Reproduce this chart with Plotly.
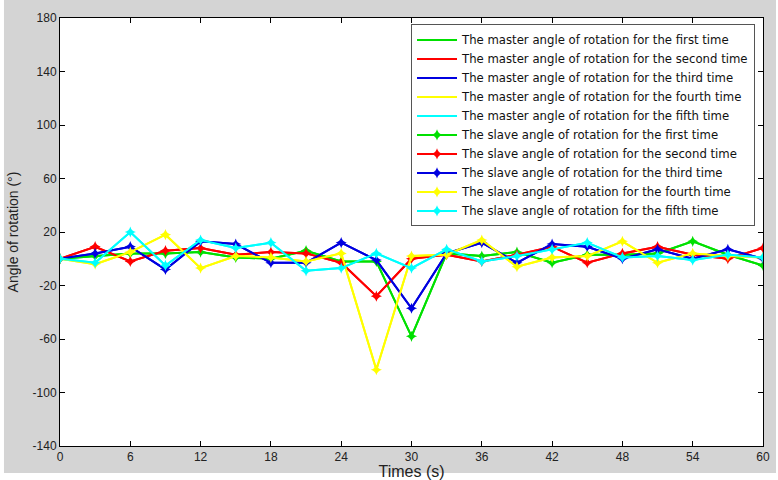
import plotly.graph_objects as go

times = [0, 3, 6, 9, 12, 15, 18, 21, 24, 27, 30, 33, 36, 39, 42, 45, 48, 51, 54, 57, 60]
x_ticks = [0, 6, 12, 18, 24, 30, 36, 42, 48, 54, 60]
y_ticks = [-140, -100, -60, -20, 20, 60, 100, 140, 180]

master_first = [0, 2, 4, 4, 5, 1, 0, 6, -2, -2, -58, 4, 2, 5, -3, 3, 3, 4, 13, 3, -5]
master_second = [0, 9, -2, 6, 8, 3, 5, 4, -3, -28, 0, 3, -2, 3, 9, -3, 4, 9, 3, 0, 8]
master_third = [0, 4, 9, -8, 13, 11, -3, -3, 12, -1, -37, 4, 12, -3, 11, 9, 0, 7, 0, 7, 0]
master_fourth = [0, -4, 5, 18, -7, 2, 1, -2, 4, -83, 2, 3, 14, -6, 1, 2, 13, -3, 4, 2, 1]
master_fifth = [0, -3, 20, -5, 14, 8, 12, -9, -7, 4, -7, 7, -2, 2, 7, 12, 1, 2, -1, 3, 1]

slave_first = [0, 2, 4, 4, 5, 1, 0, 6, -2, -2, -58, 4, 2, 5, -3, 3, 3, 4, 13, 3, -5]
slave_second = [0, 9, -2, 6, 8, 3, 5, 4, -3, -28, 0, 3, -2, 3, 9, -3, 4, 9, 3, 0, 8]
slave_third = [0, 4, 9, -8, 13, 11, -3, -3, 12, -1, -37, 4, 12, -3, 11, 9, 0, 7, 0, 7, 0]
slave_fourth = [0, -4, 5, 18, -7, 2, 1, -2, 4, -83, 2, 3, 14, -6, 1, 2, 13, -3, 4, 2, 1]
slave_fifth = [0, -3, 20, -5, 14, 8, 12, -9, -7, 4, -7, 7, -2, 2, 7, 12, 1, 2, -1, 3, 1]

ordinals = ["first", "second", "third", "fourth", "fifth"]
colors = ["#00e000", "#ff0000", "#0000e0", "#ffff00", "#00ffff"]
masters = [master_first, master_second, master_third, master_fourth, master_fifth]
slaves = [slave_first, slave_second, slave_third, slave_fourth, slave_fifth]

FONT = "Liberation Sans, Arial, sans-serif"
LEGEND_FONT = "DejaVu Sans, Verdana, sans-serif"

fig = go.Figure()
for name, col, vals in zip(ordinals, colors, masters):
    fig.add_trace(go.Scatter(
        x=times, y=vals, mode="lines",
        name=f"The master angle of rotation for the {name} time",
        line=dict(color=col, width=2),
    ))
for name, col, vals in zip(ordinals, colors, slaves):
    fig.add_trace(go.Scatter(
        x=times, y=vals, mode="lines+markers",
        name=f"The slave angle of rotation for the {name} time",
        line=dict(color=col, width=2),
        marker=dict(symbol="star-diamond", size=8, color=col),
    ))

axis_common = dict(
    showline=True, mirror="ticks", linecolor="#000000", linewidth=1,
    ticks="inside", ticklen=5, tickcolor="#000000",
    showgrid=False, zeroline=False, automargin=False,
    tickfont=dict(family=FONT, size=12, color="#222222"),
)

fig.update_layout(
    width=778, height=480,
    margin=dict(l=60, r=15, t=18, b=34),
    paper_bgcolor="#ffffff",
    plot_bgcolor="#ffffff",
    font=dict(family=FONT, size=12, color="#222222"),
    xaxis=dict(
        range=[0, 60], tickvals=x_ticks, ticktext=[str(v) for v in x_ticks],
        title=dict(text="Times (s)", standoff=0, font=dict(size=16)),
        **axis_common,
    ),
    yaxis=dict(
        range=[-140, 180], tickvals=y_ticks, ticktext=[str(v) for v in y_ticks],
        title=dict(text="Angle of rotation (°)", standoff=10, font=dict(size=14)),
        **axis_common,
    ),
    legend=dict(
        x=0.4993, y=0.985, xanchor="left", yanchor="top",
        bgcolor="#ffffff", bordercolor="#555555", borderwidth=1,
        font=dict(family=LEGEND_FONT, size=11.7, color="#111111"),
        tracegroupgap=0, itemwidth=40,
    ),
    showlegend=True,
    shapes=[
        dict(type="rect", xref="paper", yref="paper", layer="below",
             x0=-0.0797, x1=1.0185, y0=-0.0631, y1=1.042,
             fillcolor="#d4d4d4", line=dict(width=0)),
        dict(type="rect", xref="paper", yref="paper", layer="below",
             x0=0, x1=1, y0=0, y1=1,
             fillcolor="#ffffff", line=dict(width=0)),
    ],
)

fig.write_html(
    "out.html",
    config={"displayModeBar": False},
    post_script="document.body.style.margin='0px';document.body.style.padding='0px';",
)
